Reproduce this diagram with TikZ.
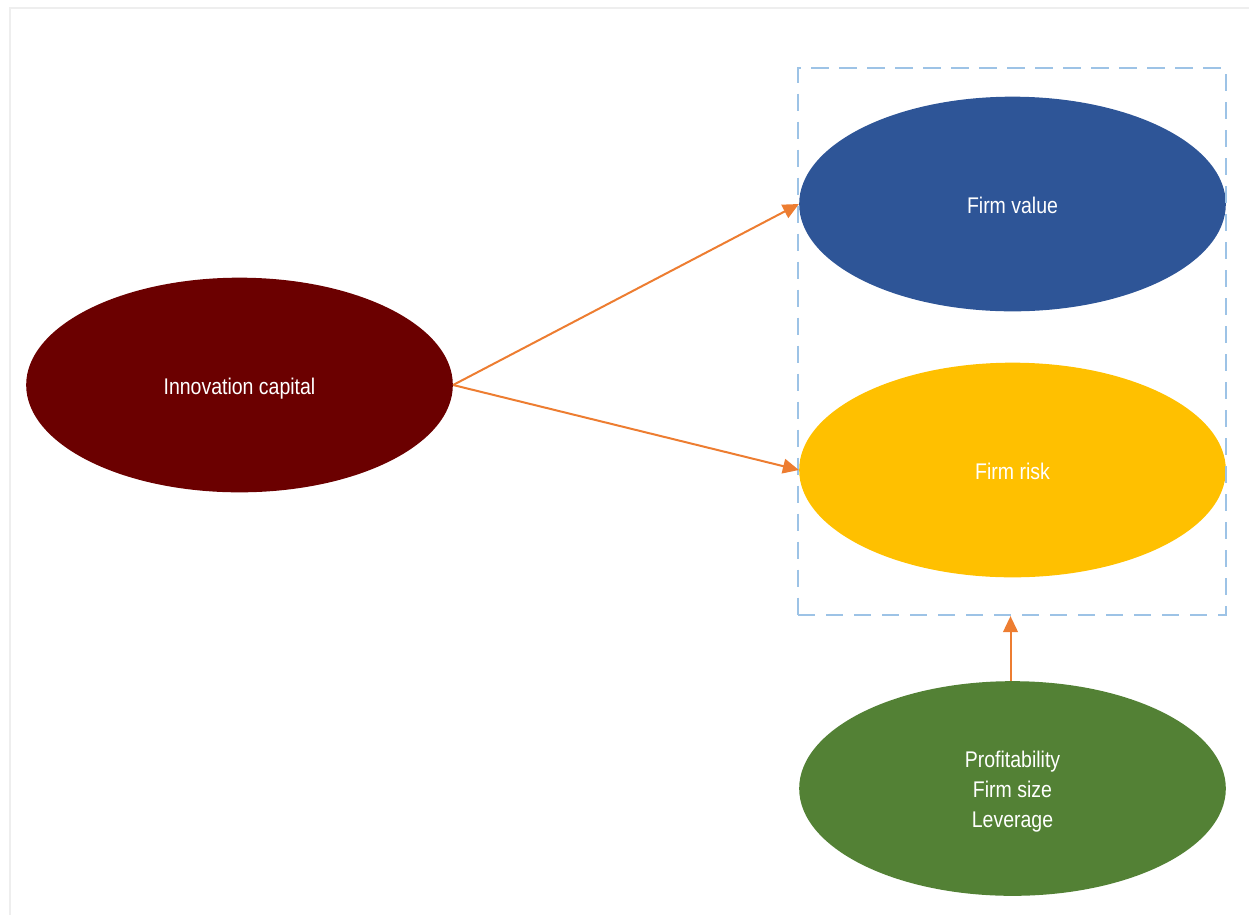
\documentclass[tikz,border=0pt]{standalone}
\usepackage{fontspec}
\setmainfont[FakeStretch=0.86]{Liberation Sans}
\usetikzlibrary{shapes.geometric,arrows.meta}
\definecolor{frameg}{HTML}{EEEEEE}
\definecolor{icred}{HTML}{6B0000}
\definecolor{fvblue}{HTML}{2E5597}
\definecolor{fryel}{HTML}{FFC000}
\definecolor{ctgreen}{HTML}{538135}
\definecolor{boxblue}{HTML}{9DC3E6}
\definecolor{arrorange}{HTML}{ED7D31}
\tikzset{
  oval/.style={ellipse, inner sep=0pt, minimum width=320pt, minimum height=161pt, text=white, font=\fontsize{17}{22.5}\selectfont, align=center},
  link/.style={draw=arrorange, line width=1.5pt, -{Triangle[length=12pt,width=11pt]}},
  groupbox/.style={draw=boxblue, line width=1.9pt, dash pattern=on 13pt off 8pt, inner sep=0pt},
}
\begin{document}
\begin{tikzpicture}[x=0.75pt,y=-0.75pt]
\useasboundingbox (0,0) rectangle (1249,915);
\draw[frameg, line width=2.2pt] (10,915) -- (10,8) -- (1249,8);
\node[oval, fill=icred, text height=17pt, text depth=3pt] (ic) at (239.5,385) {Innovation capital};
\node[oval, fill=fvblue, text height=17pt, text depth=3pt] (fv) at (1012.5,204) {Firm value};
\node[oval, fill=fryel, text height=17pt, text depth=3pt] (fr) at (1012.5,470) {Firm risk};
\node[oval, fill=ctgreen] (ct) at (1012.5,788.5) {\rule{0pt}{17.6pt}Profitability\\Firm size\\Leverage};
\node[groupbox, minimum width=321pt, minimum height=410pt] (box) at (1012,341.5) {};
\draw[link] (ic.east) -- (fv.west);
\draw[link] (ic.east) -- (fr.west);
\draw[link] ([xshift=-1.5pt]ct.north) -- ([xshift=-1.5pt]ct.north |- box.south);
\end{tikzpicture}
\end{document}
